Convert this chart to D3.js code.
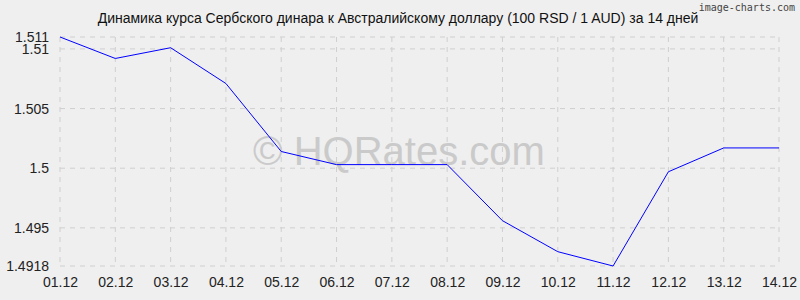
<!DOCTYPE html>
<html>
<head>
<meta charset="utf-8">
<script src="https://cdn.jsdelivr.net/npm/d3@7"></script>
<style>
body{margin:0;background:#efefef;}
svg{display:block;font-family:Arial,"Liberation Sans",sans-serif;}
</style>
</head>
<body>
<svg id="chart" width="800" height="300"></svg>
<script>
const dates = ["01.12","02.12","03.12","04.12","05.12","06.12","07.12","08.12","09.12","10.12","11.12","12.12","13.12","14.12"];
const rates = [1.5110,1.5092,1.5101,1.5071,1.5014,1.5003,1.5003,1.5003,1.4956,1.4930,1.4918,1.4997,1.5017,1.5017];
const yTicks = [1.4918,1.495,1.5,1.505,1.51,1.511];

const width = 800, height = 300;
const margin = {left: 60, right: 21, top: 37, bottom: 34};

const svg = d3.select("#chart");
svg.append("rect").attr("width", width).attr("height", height).attr("fill", "#efefef");

const x = d3.scalePoint().domain(dates).range([margin.left, width - margin.right]);
const y = d3.scaleLinear().domain([1.4918, 1.511]).range([height - margin.bottom, margin.top]);

// grid
svg.append("g").selectAll("line").data(dates).join("line")
	.attr("x1", d => x(d)).attr("x2", d => x(d))
	.attr("y1", y(1.511)).attr("y2", y(1.4918))
	.attr("stroke", "#cfcfcf").attr("stroke-dasharray", "5,5");
svg.append("g").selectAll("line").data(yTicks).join("line")
	.attr("x1", margin.left).attr("x2", width - margin.right)
	.attr("y1", d => y(d)).attr("y2", d => y(d))
	.attr("stroke", "#cfcfcf").attr("stroke-dasharray", "5,5");

// watermark
svg.append("text").attr("x", 399).attr("y", 165).attr("text-anchor", "middle")
	.attr("font-size", 40).attr("fill", "#cacaca").text("© HQRates.com");

// axes
const yAxis = d3.axisLeft(y).tickValues(yTicks).tickSize(0).tickPadding(11).tickFormat(d => String(d));
svg.append("g").attr("transform", `translate(${margin.left},0)`).call(yAxis)
	.call(g => g.select(".domain").remove())
	.selectAll("text").attr("font-size", 14).attr("fill", "#222").attr("font-family", "Arial,'Liberation Sans',sans-serif");

const xAxis = d3.axisBottom(x).tickSize(0).tickPadding(11);
svg.append("g").attr("transform", `translate(0,${height - margin.bottom})`).call(xAxis)
	.call(g => g.select(".domain").remove())
	.selectAll("text").attr("font-size", 14).attr("fill", "#222").attr("font-family", "Arial,'Liberation Sans',sans-serif");

// line
const line = d3.line().x((d, i) => x(dates[i])).y(d => y(d));
svg.append("path").datum(rates).attr("d", line)
	.attr("fill", "none").attr("stroke", "#0000ff").attr("stroke-width", 1);

// title
svg.append("text").attr("x", 398).attr("y", 23).attr("text-anchor", "middle")
	.attr("font-size", 14).attr("fill", "#111")
	.text("Динамика курса Сербского динара к Австралийскому доллару (100 RSD / 1 AUD) за 14 дней");

svg.append("text").attr("x", 795).attr("y", 11).attr("text-anchor", "end")
	.attr("font-size", 10).attr("fill", "#444").attr("font-family", "'DejaVu Sans Mono',monospace")
	.text("image-charts.com");
</script>
</body>
</html>
